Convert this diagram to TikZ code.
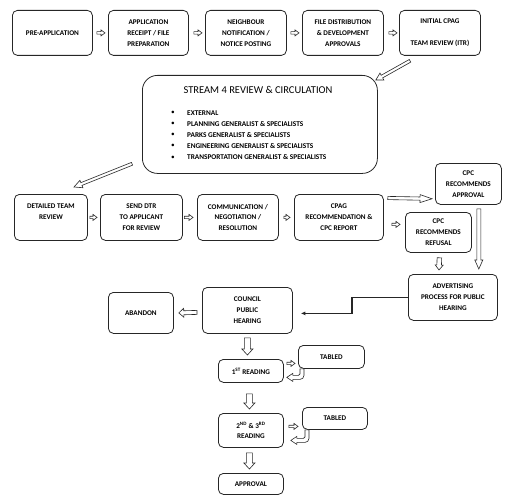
\documentclass[tikz,border=0pt]{standalone}
\usepackage{fontspec}
\setmainfont{Carlito}
\usetikzlibrary{calc,arrows.meta}
\newcommand{\blkarrow}[5]{%
  \coordinate (bkA) at #1;
  \coordinate (bkB) at #2;
  \coordinate (bkC) at ($(bkB)!#5!(bkA)$);
  \draw[blockarrow] ($(bkA)!#3!90:(bkB)$) -- ($(bkC)!#3!90:(bkB)$) -- ($(bkC)!#4!90:(bkB)$) -- (bkB) -- ($(bkC)!#4!-90:(bkB)$) -- ($(bkC)!#3!-90:(bkB)$) -- ($(bkA)!#3!-90:(bkB)$) -- cycle;
}
\newcommand{\uturnarrow}[2]{%
  \draw[blockarrow] let \p1=#1, \p2=#2 in
    (\x1+2pt,\y1) [rounded corners=4pt] -- (\x1+2pt,\y2-2pt) [sharp corners] -- (\x2+6pt,\y2-2pt) -- (\x2+6pt,\y2-4pt) -- (\x2,\y2) -- (\x2+6pt,\y2+4pt) -- (\x2+6pt,\y2+2pt) [rounded corners=1.5pt] -- (\x1-2pt,\y2+2pt) [sharp corners] -- (\x1-2pt,\y1) -- cycle;
}
\begin{document}
\begin{tikzpicture}[x=1pt,y=-1pt,
  box/.style={draw=black!85, line width=0.8pt, rounded corners=5pt, inner sep=1pt, align=center, anchor=north west, font=\bfseries\fontsize{7.2}{10.8}\selectfont},
  blockarrow/.style={draw=black!85, fill=white, line width=0.6pt, line join=miter},
  conn/.style={draw=black!85, line width=1.1pt, -{Latex[length=4.5pt,width=4pt]}},
  bul/.style={anchor=west, font=\bfseries\fontsize{7.3}{9}\selectfont, inner sep=0pt},
  dot/.style={font=\fontsize{7.3}{9}\selectfont, inner sep=0pt},
]
\useasboundingbox (0,0) rectangle (510,500);
% top row
\node[box, minimum width=80pt, minimum height=45pt] (pre) at (12,10) {PRE-APPLICATION};
\node[box, minimum width=80pt, minimum height=45pt] (app) at (108,10) {APPLICATION\\RECEIPT / FILE\\PREPARATION};
\node[box, minimum width=81pt, minimum height=45pt] (nei) at (205,10) {NEIGHBOUR\\NOTIFICATION /\\NOTICE POSTING};
\node[box, minimum width=81pt, minimum height=45pt] (file) at (302,10) {FILE DISTRIBUTION\\\& DEVELOPMENT\\APPROVALS};
\node[box, minimum width=81pt, minimum height=45pt] (itr) at (399,10) {INITIAL CPAG\\~\\TEAM REVIEW (ITR)};
% stream box
\node[draw=black!85, line width=0.8pt, rounded corners=15pt, anchor=north west, minimum width=235pt, minimum height=98pt] (stream) at (142,75) {};
\node[font=\fontsize{10.5}{12}\selectfont, inner sep=0pt] (title) at (258,90) {STREAM 4 REVIEW \& CIRCULATION};
\foreach \t [count=\i] in {EXTERNAL, PLANNING GENERALIST \& SPECIALISTS, PARKS GENERALIST \& SPECIALISTS, ENGINEERING GENERALIST \& SPECIALISTS, TRANSPORTATION GENERALIST \& SPECIALISTS}{
  \node[dot] (d\i) at (173,{113+(\i-1)*11.1}) {•};
  \node[bul] (b\i) at (187,{113+(\i-1)*11.1}) {\t};
}
% second row
\node[box, minimum width=73pt, minimum height=46pt] (det) at (14,194) {DETAILED TEAM\\REVIEW\\~};
\node[box, minimum width=82pt, minimum height=46pt] (dtr) at (100,194) {SEND DTR\\TO APPLICANT\\FOR REVIEW};
\node[box, minimum width=81pt, minimum height=46pt] (com) at (197,194) {COMMUNICATION /\\NEGOTIATION /\\RESOLUTION};
\node[box, minimum width=89pt, minimum height=46pt] (cpag) at (294,194) {CPAG\\RECOMMENDATION \&\\CPC REPORT};
\node[box, minimum width=66pt, minimum height=41pt] (appr) at (435,163) {CPC\\RECOMMENDS\\APPROVAL};
\node[box, minimum width=66pt, minimum height=40pt] (ref) at (405,212) {CPC\\RECOMMENDS\\REFUSAL};
\node[box, minimum width=89pt, minimum height=46pt] (adv) at (408,274) {ADVERTISING\\PROCESS FOR PUBLIC\\HEARING};
\node[box, minimum width=90pt, minimum height=46pt] (council) at (202,287) {COUNCIL\\PUBLIC\\HEARING};
\node[box, minimum width=65pt, minimum height=41pt] (aband) at (108,292) {ABANDON};
\node[box, minimum width=65pt, minimum height=23pt] (first) at (218,359) {1\textsuperscript{ST} READING};
\node[box, minimum width=66pt, minimum height=23pt] (tab1) at (298,345) {TABLED};
\node[box, minimum width=65pt, minimum height=34pt] (second) at (218,413) {2\textsuperscript{ND} \& 3\textsuperscript{RD}\\READING};
\node[box, minimum width=65pt, minimum height=22pt] (tab2) at (302,407) {TABLED};
\node[box, minimum width=65pt, minimum height=21pt] (appv) at (218,473) {APPROVAL};
% block arrows
\blkarrow{([xshift=4pt]pre.east)}{([xshift=-3pt]app.west)}{1.2pt}{3pt}{4pt}
\blkarrow{([xshift=5pt]app.east)}{([xshift=-3pt]nei.west)}{1.2pt}{3pt}{4pt}
\blkarrow{([xshift=4pt]nei.east)}{([xshift=-3pt]file.west)}{1.2pt}{3pt}{4pt}
\blkarrow{([xshift=5pt]file.east)}{([xshift=-2pt]itr.west)}{1.2pt}{3pt}{4pt}
\blkarrow{([shift={(11pt,-5pt)}]itr.south west)}{([shift={(-2pt,-5pt)}]stream.north east)}{1.5pt}{4pt}{7pt}
\blkarrow{([shift={(-10pt,10pt)}]stream.south west)}{([shift={(60pt,7pt)}]det.north west)}{1.5pt}{4pt}{8pt}
\blkarrow{([xshift=2pt]det.east)}{([xshift=-3pt]dtr.west)}{1.2pt}{3pt}{4pt}
\blkarrow{([xshift=1.5pt]dtr.east)}{([xshift=-4pt]com.west)}{1.2pt}{3pt}{4pt}
\blkarrow{([xshift=5pt]com.east)}{([xshift=-4pt]cpag.west)}{1.2pt}{3pt}{4pt}
\blkarrow{([shift={(4pt,-4pt)}]cpag.north east)}{([shift={(-3pt,6pt)}]appr.south west)}{1.6pt}{4pt}{12pt}
\blkarrow{([shift={(8pt,-7pt)}]cpag.east)}{([shift={(-5pt,8pt)}]ref.west)}{1.2pt}{3pt}{4pt}
\blkarrow{([shift={(-23pt,-4pt)}]appr.south east)}{([shift={(-19pt,5pt)}]adv.north east)}{2pt}{4pt}{9pt}
\blkarrow{([shift={(1pt,-5pt)}]ref.south)}{([shift={(31pt,4pt)}]adv.north west)}{2.3pt}{4pt}{5pt}
\blkarrow{([shift={(-5pt,-2pt)}]council.west)}{([xshift=5pt]aband.east)}{2pt}{4.5pt}{5pt}
\blkarrow{([yshift=-4pt]council.south)}{([shift={(-3.5pt,4pt)}]first.north)}{3pt}{5.5pt}{6pt}
\blkarrow{([shift={(3pt,7.5pt)}]first.east)}{([shift={(-3pt,-6.5pt)}]tab1.west)}{1.2pt}{3pt}{4pt}
\blkarrow{([shift={(-1.5pt,-11pt)}]first.south)}{([shift={(-1.5pt,4pt)}]second.north)}{3pt}{5.5pt}{6pt}
\blkarrow{([shift={(5pt,4pt)}]second.east)}{([shift={(-4pt,-8pt)}]tab2.west)}{1.2pt}{3pt}{4pt}
\blkarrow{([shift={(-1.5pt,-5pt)}]second.south)}{([shift={(-1.5pt,4pt)}]appv.north)}{3pt}{5.5pt}{6pt}
\uturnarrow{([xshift=4pt]tab1.south west)}{([shift={(3pt,-6.5pt)}]first.east)}
\uturnarrow{([xshift=5pt]tab2.south west)}{([shift={(7pt,-10pt)}]second.east)}
% connector
\draw[conn] (adv.west) -- ++(-56,0) |- ([shift={(8pt,-3pt)}]council.east);
\end{tikzpicture}
\end{document}
